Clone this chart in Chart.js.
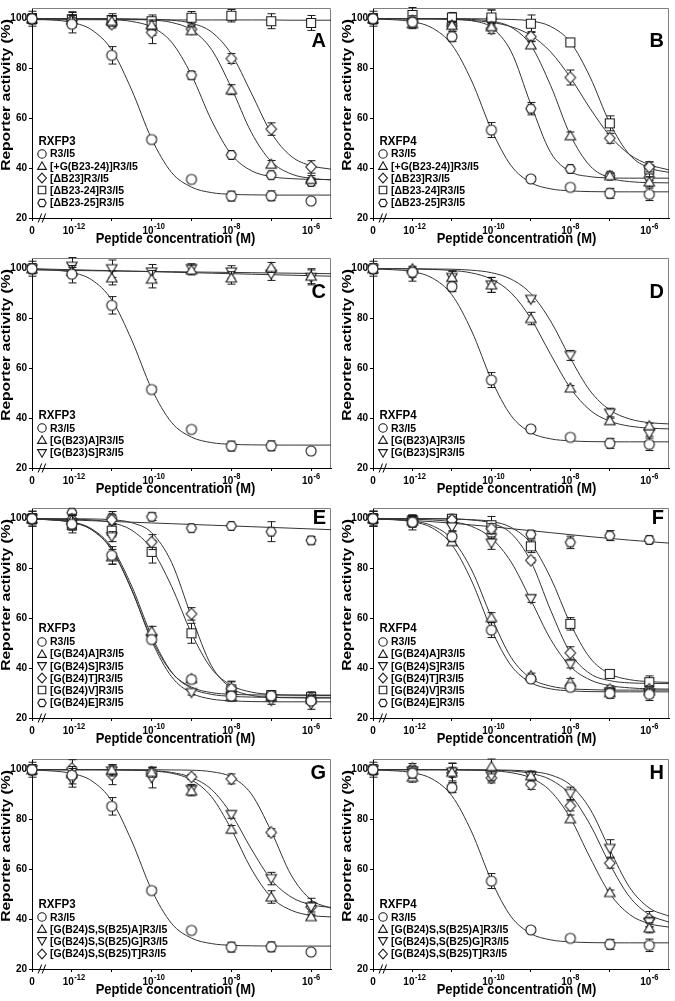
<!DOCTYPE html>
<html>
<head>
<meta charset="utf-8">
<script src="https://cdn.jsdelivr.net/npm/chart.js@4.4.0/dist/chart.umd.min.js"></script>
<style>
  body { margin: 0; background: #fff; }
  #wrap { position: relative; width: 675px; height: 1001px; }
  canvas { position: absolute; }
</style>
</head>
<body>
<div id="wrap">
  <canvas id="panelA" width="337" height="250" style="left:0;top:0"></canvas>
  <canvas id="panelB" width="337" height="250" style="left:338px;top:0"></canvas>
  <canvas id="panelC" width="337" height="250" style="left:0;top:250px"></canvas>
  <canvas id="panelD" width="337" height="250" style="left:338px;top:250px"></canvas>
  <canvas id="panelE" width="337" height="250" style="left:0;top:500px"></canvas>
  <canvas id="panelF" width="337" height="250" style="left:338px;top:500px"></canvas>
  <canvas id="panelG" width="337" height="250" style="left:0;top:751px"></canvas>
  <canvas id="panelH" width="337" height="250" style="left:338px;top:751px"></canvas>
</div>
<script>
// log10 concentration; "0" (no peptide) sits at -13 behind the axis break
const DOSE_LOG = [-13, -12, -11, -10, -9, -8, -7, -6];
const FIT_LOG = [-13, -12.5, -12, -11.5, -11, -10.5, -10, -9.5, -9, -8.5, -8, -7.5, -7, -6.5, -6, -5.5];
const X_TICKS = [-13, -12, -11, -10, -9, -8, -7, -6];
const X_TICK_LABELS = ['0', '10^-12', '', '10^-10', '', '10^-8', '', '10^-6'];
const Y_TICKS = [20, 40, 60, 80, 100];

// shared native peptide controls
const R3I5_RXFP3_MEAN = [100, 97.8, 85.3, 51.5, 35.5, 28.8, 28.9, 26.8];
const R3I5_RXFP3_SEM = [3, 3.5, 3.5, 1, 0.5, 2, 2, 0.5];
const R3I5_RXFP3_FIT = [99.9, 99.5, 98.5, 95.5, 87.5, 71.4, 51.8, 38.3, 32.4, 30.2, 29.5, 29.3, 29.2, 29.2, 29.2, 29.2];
const R3I5_RXFP4_MEAN = [100, 98.6, 92.8, 55.3, 35.7, 32.3, 29.9, 29.5];
const R3I5_RXFP4_SEM = [3, 2, 2, 3, 1, 0.5, 2, 2.5];
const R3I5_RXFP4_FIT = [99.9, 99.6, 98.8, 96.3, 89.5, 75.0, 55.5, 41.0, 34.2, 31.7, 30.9, 30.6, 30.5, 30.5, 30.5, 30.5];

// A - RXFP3
const A_LABELS = ['R3/I5', '[+G(B23-24)]R3/I5', '[ΔB23]R3/I5', '[ΔB23-24]R3/I5', '[ΔB23-25]R3/I5'];
const A_MARKERS = ['circle', 'triangle', 'diamond', 'square', 'hexagon'];
const A_MEAN = [R3I5_RXFP3_MEAN,
  [100, 99.5, 99, 97.5, 95.2, 71.5, 41.6, 35.5],
  [100, 99.5, 97.8, 94.5, 95.8, 84, 55.7, 40.5],
  [100, 99.8, 99.5, 99, 100.4, 101.2, 99, 98.3],
  [100, 99, 98.5, 96.3, 77.3, 45.3, 37.2, 34.5]];
const A_SEM = [R3I5_RXFP3_SEM,
  [2, 2, 2, 2, 1.5, 2, 1.5, 1.5],
  [2, 3, 1.5, 4.5, 1.5, 2, 2.5, 2.5],
  [2, 3, 2.5, 2.5, 2.5, 2.5, 3, 3],
  [2, 2, 1.5, 3, 1.5, 1, 1, 1.5]];
const A_FIT = [R3I5_RXFP3_FIT,
  [100, 100, 100, 100, 99.9, 99.8, 99.5, 98.5, 95.5, 87.7, 72.3, 54.4, 42.7, 37.7, 35.9, 35.3],
  [100, 100, 100, 100, 100, 99.9, 99.8, 99.4, 98.2, 94.7, 85.8, 70.2, 54.2, 44.8, 41.0, 39.6],
  [99.6, 99.6, 99.6, 99.6, 99.6, 99.6, 99.6, 99.5, 99.5, 99.5, 99.5, 99.5, 99.5, 99.4, 99.4, 99.4],
  [100, 100, 100, 99.9, 99.7, 98.9, 96.7, 90.6, 77.4, 59.3, 45.5, 39.0, 36.6, 35.8, 35.5, 35.4]];

// B - RXFP4
const B_MEAN = [R3I5_RXFP4_MEAN,
  [100, 98, 97.4, 96.8, 89.5, 53, 37, 34.5],
  [100, 99.2, 97, 96, 92.8, 76.4, 52, 40.5],
  [100, 101.5, 100.5, 100.5, 98, 90.5, 58, 39.5],
  [100, 98.5, 98, 100, 63.9, 39.7, 37, 36.5]];
const B_SEM = [R3I5_RXFP4_SEM,
  [2, 2, 1.5, 1.5, 1.5, 1.5, 1, 2],
  [2, 2, 2, 2, 2, 3, 2, 2],
  [2, 3, 2, 3, 3.5, 1, 3, 3],
  [2, 2, 2, 3.5, 2.5, 1, 1, 1.5]];
const B_FIT = [R3I5_RXFP4_FIT,
  [100, 100, 100, 100, 99.9, 99.7, 99.0, 96.6, 89.3, 73.2, 53.3, 40.9, 36.1, 34.6, 34.2, 34.1],
  [100, 100, 99.9, 99.9, 99.7, 99.3, 98.5, 96.8, 93.3, 86.7, 76.4, 64.0, 53.0, 45.5, 41.4, 39.3],
  [100, 100, 100, 100, 100, 100, 99.9, 99.7, 99.1, 96.9, 90.6, 76.6, 58.1, 45.4, 40.1, 38.3],
  [100, 100, 100, 100, 99.8, 99.2, 96.5, 86.8, 65.6, 46.3, 38.6, 36.6, 36.1, 36.0, 36.0, 36.0]];

// C / D - B23 substitutions
const CD_LABELS = ['R3/I5', '[G(B23)A]R3/I5', '[G(B23)S]R3/I5'];
const CD_MARKERS = ['circle', 'triangle', 'triangleDown'];
const C_MEAN = [R3I5_RXFP3_MEAN,
  [100, 99, 96.3, 95.8, 99.5, 96.3, 100.5, 97],
  [100, 101, 100, 98.7, 100, 98.7, 97.8, 96.5]];
const C_SEM = [R3I5_RXFP3_SEM,
  [2, 1.5, 2.8, 3.5, 2, 2.5, 2, 3],
  [2, 3.5, 3.5, 3, 2, 2.5, 2.5, 3]];
const C_FIT = [R3I5_RXFP3_FIT,
  [99.5, 99.4, 99.3, 99.2, 99.1, 99.0, 98.9, 98.8, 98.7, 98.6, 98.5, 98.4, 98.3, 98.2, 98.1, 98.0],
  [100, 99.8, 99.6, 99.4, 99.2, 99.0, 98.8, 98.6, 98.4, 98.2, 98.0, 97.8, 97.6, 97.4, 97.2, 97.0]];
const D_MEAN = [R3I5_RXFP4_MEAN,
  [100, 100, 96.5, 93.5, 80, 52.1, 39, 37],
  [100, 97.5, 96.5, 93.5, 87.7, 65.2, 42, 33.8]];
const D_SEM = [R3I5_RXFP4_SEM,
  [2, 1, 2.5, 3, 2.5, 1, 1.5, 1],
  [2, 2.5, 2.5, 3, 1, 2, 2, 1]];
const D_FIT = [R3I5_RXFP4_FIT,
  [100, 100, 99.9, 99.7, 99.3, 98.3, 95.8, 90.3, 80.0, 65.6, 52.1, 43.2, 38.8, 36.8, 36.0, 35.7],
  [100, 100, 100, 99.9, 99.8, 99.4, 98.4, 95.8, 90.0, 79.0, 64.1, 51.0, 43.3, 39.7, 38.2, 37.7]];

// E / F - B24 substitutions
const EF_LABELS = ['R3/I5', '[G(B24)A]R3/I5', '[G(B24)S]R3/I5', '[G(B24)T]R3/I5', '[G(B24)V]R3/I5', '[G(B24)E]R3/I5'];
const EF_MARKERS = ['circle', 'triangle', 'triangleDown', 'diamond', 'square', 'hexagon'];
const E_MEAN = [R3I5_RXFP3_MEAN,
  [100, 99.5, 84.7, 54.8, 35.8, 28.5, 28.5, 27.5],
  [100, 98, 92.8, 51.8, 30.2, 28.8, 27, 25.5],
  [100, 99.8, 99.5, 90.6, 61.8, 31.8, 28.5, 28],
  [100, 97.4, 95.2, 86.7, 54, 31.5, 29.2, 28.5],
  [100, 102.4, 100.4, 100.8, 96.2, 97.1, 94.8, 91.3]];
const E_SEM = [R3I5_RXFP3_SEM,
  [2, 2, 3, 2, 1, 1.5, 1.5, 1.5],
  [2, 2, 2, 1.5, 1, 1.5, 1.5, 2],
  [2, 2, 2, 3, 2.5, 3, 1.5, 1.5],
  [2, 2, 2.5, 4.5, 4, 3, 1.5, 2],
  [3, 1, 2.5, 1.5, 0.5, 0.5, 4, 1.5]];
const E_FIT = [R3I5_RXFP3_FIT,
  [99.9, 99.6, 98.7, 95.9, 88.5, 73.0, 53.0, 38.5, 31.9, 29.5, 28.7, 28.4, 28.3, 28.3, 28.3, 28.3],
  [99.9, 99.5, 98.6, 95.6, 87.8, 71.6, 51.0, 36.6, 30.0, 27.6, 26.9, 26.6, 26.5, 26.5, 26.5, 26.5],
  [100, 100, 100, 99.9, 99.6, 98.4, 94.4, 82.5, 60.7, 41.0, 32.0, 29.1, 28.3, 28.1, 28.0, 28.0],
  [100, 99.9, 99.8, 99.5, 98.4, 95.4, 87.8, 72.9, 54.0, 39.9, 33.1, 30.4, 29.5, 29.2, 29.1, 29.0],
  [100.1, 99.8, 99.5, 99.2, 98.9, 98.6, 98.3, 98.0, 97.7, 97.4, 97.1, 96.8, 96.5, 96.2, 95.9, 95.6]];
const F_MEAN = [R3I5_RXFP4_MEAN,
  [100, 99, 90.8, 60.3, 37, 34.4, 30.2, 31],
  [100, 99, 96.7, 90.2, 67.9, 41.6, 30.5, 29.8],
  [100, 99, 99.5, 96, 83.3, 46.1, 31.4, 31.5],
  [100, 99.5, 100, 97.4, 88.9, 57.8, 37.7, 34.4],
  [100, 98.5, 100, 93.8, 93.7, 90.5, 93.2, 91.5]];
const F_SEM = [R3I5_RXFP4_SEM,
  [2, 2, 1.5, 2, 1, 1.5, 1.5, 1.5],
  [2, 2, 1.5, 2.5, 1.5, 1.5, 1.5, 1.5],
  [2, 2, 1.5, 2, 1, 2.5, 1.5, 1.5],
  [3, 2, 1.5, 3.5, 2.5, 2.5, 1.5, 2.5],
  [3, 3, 1.5, 2, 1.5, 2.5, 2, 1.5]];
const F_FIT = [R3I5_RXFP4_FIT,
  [99.9, 99.7, 99.1, 97.2, 91.8, 79.4, 60.5, 44.3, 35.9, 32.8, 31.7, 31.4, 31.2, 31.2, 31.2, 31.2],
  [100, 99.9, 99.8, 99.5, 98.8, 96.9, 92.2, 82.6, 67.4, 51.6, 40.7, 35.3, 33.0, 32.1, 31.7, 31.6],
  [100, 100, 100, 100, 99.9, 99.5, 98.2, 94.1, 82.9, 63.3, 46.1, 37.8, 35.0, 34.1, 33.9, 33.8],
  [100, 100, 100, 100, 99.9, 99.6, 98.9, 96.5, 90.1, 76.3, 57.9, 44.1, 37.7, 35.4, 34.6, 34.3],
  [100, 99.7, 99.3, 98.8, 98.2, 97.5, 96.8, 96.0, 95.2, 94.4, 93.6, 92.8, 92.1, 91.4, 90.8, 90.2]];

// G / H - B24/B25 double substitutions
const GH_LABELS = ['R3/I5', '[G(B24)S,S(B25)A]R3/I5', '[G(B24)S,S(B25)G]R3/I5', '[G(B24)S,S(B25)T]R3/I5'];
const GH_MARKERS = ['circle', 'triangle', 'triangleDown', 'diamond'];
const G_MEAN = [R3I5_RXFP3_MEAN,
  [100, 98.5, 100, 99, 91.5, 76.1, 48.9, 41],
  [100, 96, 99.5, 96.7, 92.1, 82, 56.3, 44.9],
  [100, 100.5, 98, 99, 97.1, 96.3, 74.8, 44.9]];
const G_SEM = [R3I5_RXFP3_SEM,
  [2, 2, 2, 2, 2, 1.5, 2.5, 1],
  [2, 3, 2, 4, 2, 1.5, 2.5, 2],
  [2, 3.5, 4, 2, 1, 2, 1.5, 3.5]];
const G_FIT = [R3I5_RXFP3_FIT,
  [100, 100, 100, 100, 99.95, 99.8, 99.5, 98.6, 95.9, 89.2, 76.1, 60.2, 48.8, 43.6, 41.5, 40.9],
  [100, 100, 100, 100, 99.95, 99.85, 99.6, 98.9, 96.9, 92.1, 82.2, 68.2, 55.9, 48.9, 45.8, 44.7],
  [100, 100, 100, 100, 100, 100, 100, 99.9, 99.8, 99.2, 97.1, 90.3, 75.3, 57.7, 47.8, 44.4]];
const H_MEAN = [R3I5_RXFP4_MEAN,
  [100, 97, 99, 101.3, 97.6, 80.3, 50.7, 36.5],
  [100, 99.5, 99, 97.5, 97.5, 90.5, 68.4, 38.8],
  [100, 100.5, 98.7, 96.7, 94.1, 85.5, 62.5, 40.1]];
const H_SEM = [R3I5_RXFP4_SEM,
  [2, 2, 2, 3, 1.5, 1.5, 1, 2],
  [2, 2, 3.5, 2, 2, 2.5, 3.5, 2],
  [2, 2, 4, 2, 2, 2, 2, 3]];
const H_FIT = [R3I5_RXFP4_FIT,
  [100, 100, 100, 100, 99.95, 99.8, 99.6, 98.8, 96.7, 91.4, 80.6, 64.7, 50.3, 41.9, 38.2, 36.8],
  [100, 100, 100, 100, 100, 100, 99.9, 99.8, 99.3, 97.9, 93.9, 84.2, 68.0, 52.8, 44.5, 41.2],
  [100, 100, 100, 100, 100, 99.9, 99.8, 99.5, 98.5, 96.0, 89.9, 78.0, 62.1, 49.0, 41.8, 38.8]];

const FONT = '"Liberation Sans", Arial, Helvetica, sans-serif';

// open (white filled) symbols, drawn once into small canvases
function makeMarker(type, r) {
  const s = 2 * Math.ceil(r) + 4;
  const c = document.createElement('canvas');
  c.width = s; c.height = s;
  const g = c.getContext('2d');
  const m = s / 2;
  g.beginPath();
  if (type === 'circle') {
    g.arc(m, m, r, 0, Math.PI * 2);
  } else if (type === 'square') {
    g.rect(m - r * 0.9, m - r * 0.9, r * 1.8, r * 1.8);
  } else if (type === 'diamond') {
    g.moveTo(m, m - r * 1.15); g.lineTo(m + r * 1.05, m); g.lineTo(m, m + r * 1.15); g.lineTo(m - r * 1.05, m);
    g.closePath();
  } else if (type === 'triangle') {
    g.moveTo(m, m - r); g.lineTo(m + r * 1.05, m + r * 0.8); g.lineTo(m - r * 1.05, m + r * 0.8);
    g.closePath();
  } else if (type === 'triangleDown') {
    g.moveTo(m, m + r); g.lineTo(m + r * 1.05, m - r * 0.8); g.lineTo(m - r * 1.05, m - r * 0.8);
    g.closePath();
  } else { // hexagon
    for (let k = 0; k < 6; k++) {
      const t = k * Math.PI / 3;
      const px = m + r * Math.cos(t), py = m + r * Math.sin(t);
      if (k === 0) g.moveTo(px, py); else g.lineTo(px, py);
    }
    g.closePath();
  }
  g.fillStyle = '#fff';
  g.fill();
  g.lineWidth = 1.1;
  g.strokeStyle = '#1a1a1a';
  g.stroke();
  return c;
}

const MARK_TYPES = ['circle', 'triangle', 'triangleDown', 'diamond', 'square', 'hexagon'];
const POINT_IMG = {}, LEGEND_IMG = {};
MARK_TYPES.forEach(t => { POINT_IMG[t] = makeMarker(t, 5); LEGEND_IMG[t] = makeMarker(t, 4.2); });

const DECO = {}; // per-canvas text / legend settings

const errorBars = {
  id: 'errorBars',
  beforeDatasetDraw(chart, args) {
    const ds = chart.data.datasets[args.index];
    if (!ds.errors) return;
    const { ctx, scales: { x, y } } = chart;
    ctx.save();
    ctx.strokeStyle = '#1a1a1a';
    ctx.lineWidth = 1;
    ds.data.forEach((p, i) => {
      const e = ds.errors[i];
      if (!e) return;
      const px = Math.round(x.getPixelForValue(p.x)) + 0.5;
      const y1 = y.getPixelForValue(p.y + e), y2 = y.getPixelForValue(p.y - e);
      ctx.beginPath();
      ctx.moveTo(px, y1); ctx.lineTo(px, y2);
      ctx.moveTo(px - 4, y1); ctx.lineTo(px + 4, y1);
      ctx.moveTo(px - 4, y2); ctx.lineTo(px + 4, y2);
      ctx.stroke();
    });
    ctx.restore();
  }
};

// text slightly taller than wide, as in the reference scan
function tallText(ctx, text, x, y, sy) {
  ctx.save();
  ctx.translate(x, y);
  ctx.scale(1, sy);
  ctx.fillText(text, 0, 0);
  ctx.restore();
}

const panelDeco = {
  id: 'panelDeco',
  beforeDatasetsDraw(chart) {
    const { ctx, chartArea: a } = chart;
    ctx.save();
    ctx.strokeStyle = '#808080';
    ctx.lineWidth = 1;
    ctx.beginPath();
    ctx.moveTo(a.left, Math.round(a.top) + 0.5);
    ctx.lineTo(Math.round(a.right) - 0.5, Math.round(a.top) + 0.5);
    ctx.lineTo(Math.round(a.right) - 0.5, a.bottom);
    ctx.stroke();
    ctx.restore();
  },
  afterDraw(chart) {
    const d = DECO[chart.canvas.id];
    const { ctx, chartArea: a } = chart;
    const xs = chart.scales.x;
    ctx.save();
    ctx.fillStyle = '#000';

    // x tick labels with superscript exponents
    X_TICK_LABELS.forEach((lab, i) => {
      if (!lab) return;
      const px = xs.getPixelForValue(X_TICKS[i]);
      const yb = a.bottom + 15.5;
      ctx.textBaseline = 'alphabetic';
      if (lab.indexOf('^') >= 0) {
        const parts = lab.split('^');
        ctx.font = 'bold 10px ' + FONT;
        ctx.textAlign = 'right';
        tallText(ctx, parts[0], px + 2, yb, 1.1);
        ctx.font = 'bold 7.5px ' + FONT;
        ctx.textAlign = 'left';
        tallText(ctx, parts[1], px + 2.5, yb - 4.5, 1.1);
      } else {
        ctx.font = 'bold 10px ' + FONT;
        ctx.textAlign = 'center';
        tallText(ctx, lab, px, yb, 1.1);
      }
    });

    // axis titles
    ctx.font = 'bold 13px ' + FONT;
    ctx.textAlign = 'center';
    ctx.textBaseline = 'middle';
    tallText(ctx, 'Peptide concentration (M)', a.left + 143.5, a.bottom + 21.3, 1.1);
    ctx.save();
    ctx.translate(a.left - 25.5, 95);
    ctx.rotate(-Math.PI / 2);
    ctx.scale(1.2, 1);
    ctx.fillText('Reporter activity (%)', 0, 0);
    ctx.restore();

    // axis break
    const bx = xs.getPixelForValue(-12.72);
    ctx.strokeStyle = '#000';
    ctx.lineWidth = 1;
    ctx.beginPath();
    ctx.moveTo(bx - 5, a.bottom + 4.5); ctx.lineTo(bx - 1.5, a.bottom - 4.5);
    ctx.moveTo(bx - 1, a.bottom + 4.5); ctx.lineTo(bx + 2.5, a.bottom - 4.5);
    ctx.stroke();

    // panel letter
    ctx.font = 'bold 20px ' + FONT;
    ctx.textAlign = 'right';
    ctx.textBaseline = 'alphabetic';
    ctx.fillText(d.letter, a.right - 5, d.letterY);

    // legend (bottom-left inside the plot)
    const n = d.labels.length;
    const lastY = 202.5;
    ctx.textBaseline = 'middle';
    ctx.textAlign = 'left';
    ctx.font = 'bold 11.5px ' + FONT;
    tallText(ctx, d.receptor, a.left + 6.5, lastY - (n - 1) * 12.2 - 12.5, 1.1);
    ctx.font = 'bold 10.5px ' + FONT;
    d.labels.forEach((lab, i) => {
      const ly = lastY - (n - 1 - i) * 12.2;
      const img = LEGEND_IMG[d.markers[i]];
      ctx.drawImage(img, Math.round(a.left + 10 - img.width / 2), Math.round(ly - img.height / 2));
      tallText(ctx, lab, a.left + 18, ly + 0.5, 1.1);
    });
    ctx.restore();
  }
};

function buildPanel(p) {
  DECO['panel' + p.letter] = p;
  const datasets = [];
  p.fits.forEach((fit, i) => {
    datasets.push({
      data: FIT_LOG.map((x, j) => ({ x: x, y: fit[j] })),
      borderColor: '#333',
      borderWidth: 1,
      pointRadius: 0,
      cubicInterpolationMode: 'monotone',
      fill: false,
      order: 2
    });
  });
  p.means.forEach((mean, i) => {
    datasets.push({
      data: DOSE_LOG.map((x, j) => ({ x: x, y: mean[j] })),
      errors: p.sems[i],
      showLine: false,
      pointStyle: POINT_IMG[p.markers[i]],
      pointRadius: 5,
      clip: false,
      order: 1
    });
  });
  const tickFont = { family: FONT, size: 10, weight: 'bold' };
  return new Chart(document.getElementById('panel' + p.letter), {
    type: 'line',
    data: { datasets: datasets },
    options: {
      responsive: false,
      animation: false,
      events: [],
      layout: { padding: { top: 3, right: p.col ? 2 : 4, left: 0, bottom: 0 } },
      plugins: {
        legend: { display: false },
        tooltip: { enabled: false }
      },
      scales: {
        x: {
          type: 'linear',
          min: -13,
          max: -5.5,
          afterBuildTicks: s => { s.ticks = X_TICKS.map(v => ({ value: v })); },
          afterFit: s => { s.height = 32; },
          ticks: { display: false },
          grid: { drawOnChartArea: false, tickLength: 3, color: '#000' },
          border: { color: '#000', width: 1 }
        },
        y: {
          min: 20,
          max: 104.3,
          afterBuildTicks: s => { s.ticks = Y_TICKS.map(v => ({ value: v })); },
          afterFit: s => { s.width = p.col ? 35 : 32; },
          ticks: { font: tickFont, color: '#000', padding: 2 },
          grid: { drawOnChartArea: false, tickLength: 3, color: '#000' },
          border: { color: '#000', width: 1 }
        }
      }
    },
    plugins: [errorBars, panelDeco]
  });
}

const A_DEF = { letter: 'A', col: 0, letterY: 47, receptor: 'RXFP3', labels: A_LABELS, markers: A_MARKERS, means: A_MEAN, sems: A_SEM, fits: A_FIT };
const B_DEF = { letter: 'B', col: 1, letterY: 47, receptor: 'RXFP4', labels: A_LABELS, markers: A_MARKERS, means: B_MEAN, sems: B_SEM, fits: B_FIT };
const C_DEF = { letter: 'C', col: 0, letterY: 48, receptor: 'RXFP3', labels: CD_LABELS, markers: CD_MARKERS, means: C_MEAN, sems: C_SEM, fits: C_FIT };
const D_DEF = { letter: 'D', col: 1, letterY: 48, receptor: 'RXFP4', labels: CD_LABELS, markers: CD_MARKERS, means: D_MEAN, sems: D_SEM, fits: D_FIT };
const E_DEF = { letter: 'E', col: 0, letterY: 23.5, receptor: 'RXFP3', labels: EF_LABELS, markers: EF_MARKERS, means: E_MEAN, sems: E_SEM, fits: E_FIT };
const F_DEF = { letter: 'F', col: 1, letterY: 23.5, receptor: 'RXFP4', labels: EF_LABELS, markers: EF_MARKERS, means: F_MEAN, sems: F_SEM, fits: F_FIT };
const G_DEF = { letter: 'G', col: 0, letterY: 27.5, receptor: 'RXFP3', labels: GH_LABELS, markers: GH_MARKERS, means: G_MEAN, sems: G_SEM, fits: G_FIT };
const H_DEF = { letter: 'H', col: 1, letterY: 27.5, receptor: 'RXFP4', labels: GH_LABELS, markers: GH_MARKERS, means: H_MEAN, sems: H_SEM, fits: H_FIT };

[A_DEF, B_DEF, C_DEF, D_DEF, E_DEF, F_DEF, G_DEF, H_DEF].forEach(buildPanel);
</script>
</body>
</html>
